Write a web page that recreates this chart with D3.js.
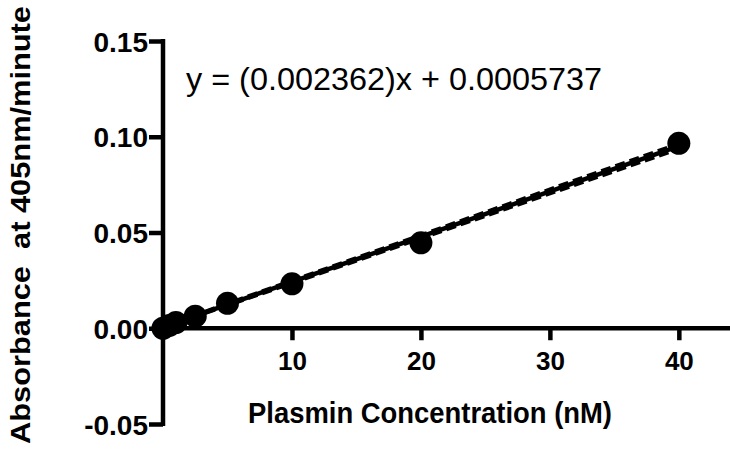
<!DOCTYPE html>
<html>
<head>
<meta charset="utf-8">
<script src="https://cdn.jsdelivr.net/npm/d3@7"></script>
<style>
  body { margin: 0; background: #fff; }
  svg { display: block; }
</style>
</head>
<body>
<svg width="730" height="453"></svg>
<script>
const concentrations = [0, 0.5, 1, 2.5, 5, 10, 20, 40];
const absorbance = [0.0000, 0.0015, 0.0030, 0.0063, 0.0130, 0.0232, 0.0446, 0.0966];
const slope = 0.002362;
const intercept = 0.0005737;
const ciSpread = [0.0003, 0.0013];
const xTicks = [10, 20, 30, 40];
const yTicks = [-0.05, 0.00, 0.05, 0.10, 0.15];

const svg = d3.select("svg");
const font = "Liberation Sans, Arial, Helvetica, sans-serif";

const x = d3.scaleLinear().domain([0, 44.2]).range([163, 733]);
const y = d3.scaleLinear().domain([-0.05, 0.15]).range([424, 41]);

// y axis
const yAxis = svg.append("g")
  .attr("transform", `translate(${x(0)},0)`)
  .call(d3.axisLeft(y).tickValues(yTicks).tickSize(14).tickSizeOuter(0)
    .tickFormat(d => d3.format(".2f")(d).replace("\u2212", "-")));
yAxis.select(".domain").attr("stroke", "#000").attr("stroke-width", 4.5)
  .attr("d", `M0,${y(-0.05) + 2}V${y(0.15) - 2}`);
yAxis.selectAll(".tick line").attr("stroke", "#000").attr("stroke-width", 4.5);
yAxis.selectAll(".tick text")
  .attr("x", -15).attr("dy", "0.36em")
  .style("font-family", font).style("font-size", "28px").style("font-weight", "bold")
  .attr("fill", "#000");

// x axis
const xAxis = svg.append("g")
  .attr("transform", `translate(0,${y(0)})`)
  .call(d3.axisBottom(x).tickValues(xTicks).tickSize(12).tickSizeOuter(0)
    .tickFormat(d3.format("d")));
xAxis.select(".domain").attr("stroke", "#000").attr("stroke-width", 4.5)
  .attr("d", `M${x(0) - 2},0H730`);
xAxis.selectAll(".tick line").attr("stroke", "#000").attr("stroke-width", 4.5);
xAxis.selectAll(".tick text")
  .attr("y", 23).attr("dy", "0.71em")
  .style("font-family", font).style("font-size", "26px").style("font-weight", "bold")
  .attr("fill", "#000");

// fit line and confidence bands
const fitX = [0, 40];
const line = d3.line().x(d => x(d[0])).y(d => y(d[1]));
svg.append("path")
  .datum(fitX.map(v => [v, slope * v + intercept]))
  .attr("d", line).attr("fill", "none").attr("stroke", "#000").attr("stroke-width", 4.5);
[1, -1].forEach(s => {
  svg.append("path")
    .datum(fitX.map((v, i) => [v, slope * v + intercept + s * ciSpread[i]]))
    .attr("d", line).attr("fill", "none").attr("stroke", "#000")
    .attr("stroke-width", 4).attr("stroke-dasharray", "10,5");
});

// points
svg.append("g").selectAll("circle")
  .data(concentrations.map((c, i) => [c, absorbance[i]]))
  .join("circle")
  .attr("cx", d => x(d[0])).attr("cy", d => y(d[1]))
  .attr("r", 11.5).attr("fill", "#000");

// equation
svg.append("text")
  .attr("x", 186).attr("y", 90)
  .attr("textLength", 416).attr("lengthAdjust", "spacingAndGlyphs")
  .style("font-family", font).style("font-size", "31px")
  .text("y = (0.002362)x + 0.0005737");

// axis titles
svg.append("text")
  .attr("x", 430).attr("y", 423)
  .attr("text-anchor", "middle")
  .attr("textLength", 364).attr("lengthAdjust", "spacingAndGlyphs")
  .style("font-family", font).style("font-size", "29px").style("font-weight", "bold")
  .text("Plasmin Concentration (nM)");

svg.append("text")
  .attr("transform", "translate(30,225) rotate(-90)")
  .attr("text-anchor", "middle")
  .attr("textLength", 438).attr("lengthAdjust", "spacingAndGlyphs")
  .style("font-family", font).style("font-size", "28px").style("font-weight", "bold")
  .attr("xml:space", "preserve")
  .style("white-space", "pre")
  .text("Absorbance  at 405nm/minute");
</script>
</body>
</html>
